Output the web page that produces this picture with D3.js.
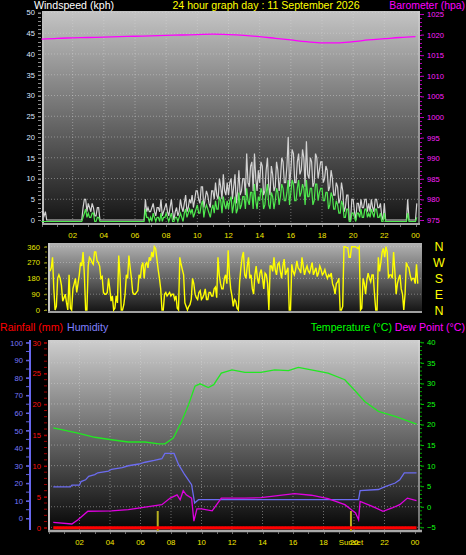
<!DOCTYPE html>
<html><head><meta charset="utf-8">
<script src="https://cdn.jsdelivr.net/npm/d3@7"></script>
<style>
body{margin:0;background:#000}
svg{display:block}
text{font-family:"Liberation Sans",Arial,sans-serif}
</style>
</head><body>
<svg id="c" width="466" height="555"></svg>
<script>
// ---------------- DATA ----------------
const title = "24 hour graph day : 11 September 2026";
const hourLabels = ["02","04","06","08","10","12","14","16","18","20","22","00"];
const hourTicks = [2,4,6,8,10,12,14,16,18,20,22,24];
const sampleMinutes = 5;

// wind gust (kph), 5-minute samples from 00:00 (12 per hour)
const windGust = [
 2,2,1,2,0,0,0,0,0,0,0,0,
 0,0,0,0,0,0,0,0,0,0,0,0,
 0,0,0,0,0,0,0,0,3,5,5,2,
 4,3,2,4,3,1,1,3,3,0,0,0,
 0,0,0,0,0,0,0,0,0,0,0,0,
 0,0,0,0,0,0,0,0,0,0,0,0,
 0,0,0,0,0,0,0,0,5,2,3,2,
 2,3,4,2,1,3,3,2,5,1,2,3,
 4,2,1,3,5,2,0,2,3,1,2,5,
 3,2,4,6,2,3,5,4,6,3,5,7,
 7,5,4,8,8,3,5,7,6,4,3,7,
 7,5,9,6,5,10,8,5,11,7,6,9,
 6,9,10,5,8,11,4,7,12,6,7,10,
 10,6,16,9,8,13,14,7,16,10,7,12,
 9,14,13,6,7,12,15,8,6,13,11,7,
 8,14,12,7,10,15,14,9,9,13,20,8,
 12,17,16,9,9,14,16,11,12,17,15,8,
 19,11,10,15,14,8,9,16,15,10,12,14,
 14,9,10,13,12,7,8,12,10,6,6,9,
 8,4,5,9,7,2,3,6,6,0,0,5,
 5,2,0,4,4,2,5,3,3,5,5,2,
 4,2,5,3,2,5,5,3,3,4,1,0,
 4,0,0,0,0,0,0,0,0,0,0,0,
 0,0,0,0,0,0,5,0,0,0,0,0,
 0,4];
// wind average (kph)
const windAvg = [
 0,0,0,0,0,0,0,0,0,0,0,0,
 0,0,0,0,0,0,0,0,0,0,0,0,
 0,0,0,0,0,0,0,0,1,2,3,1,
 2,1,1,2,2,0,0,1,1,0,0,0,
 0,0,0,0,0,0,0,0,0,0,0,0,
 0,0,0,0,0,0,0,0,0,0,0,0,
 0,0,0,0,0,0,0,0,3,1,1,0,
 1,0,2,1,0,1,1,0,2,0,1,1,
 2,1,0,1,2,0,0,1,1,0,1,2,
 1,0,2,3,1,2,3,2,3,1,2,3,
 4,2,2,4,5,1,3,4,3,2,1,3,
 4,2,5,3,3,6,5,2,6,4,3,5,
 3,5,6,2,4,6,2,3,7,3,4,6,
 6,3,8,5,4,7,7,3,9,5,3,6,
 5,8,7,3,4,7,9,4,3,7,6,3,
 5,8,7,4,6,9,8,5,5,7,10,4,
 7,10,9,5,5,8,10,6,7,9,8,4,
 10,6,6,8,8,4,5,9,9,5,7,8,
 8,5,5,7,7,3,4,7,6,3,3,5,
 4,2,2,5,4,1,1,3,3,0,0,2,
 2,1,0,2,2,1,3,1,1,3,3,1,
 2,1,3,2,1,3,3,1,1,2,0,0,
 2,0,0,0,0,0,0,0,0,0,0,0,
 0,0,0,0,0,0,2,0,0,0,0,0,
 0,1];
// wind direction (degrees)
const windDir = [
 220,240,300,120,0,20,180,200,180,140,50,70,
 90,40,0,200,10,0,120,150,180,100,150,200,
 270,250,330,200,0,0,250,300,290,270,260,330,
 330,280,270,250,180,190,100,90,90,100,180,120,
 50,80,0,10,80,40,310,200,0,0,30,90,
 200,180,310,240,180,100,90,90,100,110,200,180,
 250,270,180,260,270,240,300,280,330,300,360,350,
 290,230,180,120,0,0,90,100,80,90,100,80,
 90,90,60,80,10,0,300,260,230,200,40,20,
 0,20,30,60,180,150,90,70,60,100,110,60,
 70,90,120,60,60,100,100,80,80,120,130,70,
 300,200,150,120,120,180,200,150,340,200,120,80,
 20,60,50,10,0,160,240,300,330,200,180,250,
 300,180,200,120,90,200,250,180,150,210,230,180,
 120,210,200,150,0,250,250,220,300,230,200,260,
 270,220,180,250,290,200,220,240,0,0,260,220,
 200,230,280,240,230,210,300,250,200,230,250,220,
 210,240,270,200,220,240,190,210,250,230,200,210,
 230,200,180,200,190,210,150,130,90,150,160,180,
 0,0,20,360,360,355,355,300,300,360,360,360,
 360,355,350,360,0,10,180,150,90,170,210,180,
 160,200,200,90,0,0,300,220,270,330,350,300,
 360,330,180,200,200,180,330,220,90,150,180,200,
 120,90,0,90,270,250,240,200,170,180,180,150,
 260,150];

// barometer (hPa), hourly
const presHours = [0,1,2,3,4,5,6,7,8,9,10,11,12,13,14,15,16,17,18,19,20,21,22,23,24];
const presValues = [1018.9,1019.1,1019.2,1019.3,1019.4,1019.5,1019.6,1019.7,1019.8,1019.9,1020.0,1020.1,1020.0,
 1019.8,1019.5,1019.1,1018.7,1018.3,1018.0,1018.0,1018.3,1018.7,1019.0,1019.3,1019.5];

// temperature (°C)
const tempTimes = [0.28,1.9,3.0,4.1,5.2,6.3,7.2,7.6,8.15,8.7,9.15,9.57,9.9,10.45,10.8,11.3,12.0,12.85,13.9,14.8,15.7,16.35,17.2,18.3,19.4,20.1,20.7,21.6,22.7,24.1];
const tempValues = [19.2,17.9,16.9,16.3,15.75,15.75,15.3,15.3,16.7,20.8,24.8,29.3,29.9,29.0,29.7,32.5,33.3,32.7,32.7,33.3,33.1,33.9,33.3,32.5,30.9,28.1,25.6,23.2,22.0,20.1];

// humidity (%)
const humTimes = [0.28,1.4,1.5,2.0,2.1,2.4,2.6,3.0,3.2,3.9,4.1,4.8,5.2,5.9,6.3,6.9,7.4,7.6,8.2,8.5,8.9,9.35,9.55,9.8,20.3,20.4,21.6,22.0,22.7,23.0,23.3,24.1];
const humValues = [18,18,19,19,21,22,24,25,26,27,28,29,30,31,32,33,34,37,37,30.6,24.9,19.2,8.8,10.7,10.7,15.8,16.5,18,20.2,22,25.9,25.9];

// dew point (°C)
const dewTimes = [0.28,1.5,1.9,2.55,4.1,5.2,6.3,7.4,7.95,8.4,8.6,8.8,9.0,9.35,9.5,9.7,10.0,10.7,11.3,12.8,13.9,15.0,16.1,17.2,18.3,19.4,20.1,20.3,20.4,21.2,21.9,22.5,23.0,23.5,24.1];
const dewValues = [-3.8,-4.2,-3.15,-1.1,-1.0,-0.7,-0.1,0.5,2.1,2.9,1.7,3.9,2.9,2.1,-3.5,-0.5,-0.5,-1.0,2.1,2.1,2.2,2.7,3.2,2.8,2.0,0.5,-1.5,-3.15,1.3,0.1,-1.1,-0.3,0.5,2.1,1.5];

// rainfall (mm)
const rainTimes = [0.28,24.1];
const rainValues = [0,0];

const sunriseHour = 7.13, sunsetHour = 19.8;

// ---------------- DRAW ----------------
const svg = d3.select("#c");
const defs = svg.append("defs");
function grad(id, c1, c2){
  const g = defs.append("linearGradient").attr("id",id).attr("x1",0).attr("y1",0).attr("x2",0).attr("y2",1);
  g.append("stop").attr("offset","0%").attr("stop-color",c1);
  g.append("stop").attr("offset","100%").attr("stop-color",c2);
}
grad("gTop","#c4c4c4","#141414");
grad("gMid","#b4b4b4","#141414");
grad("gBot","#cecece","#060606");

const F = "Liberation Sans, Arial, sans-serif";
function txt(x,y,s,col,size,anchor){
  return svg.append("text").attr("x",x).attr("y",y).text(s).attr("fill",col)
    .attr("font-size",size).attr("text-anchor",anchor||"start");
}
const gridStyle = sel => sel.attr("stroke","#d8d8d8").attr("stroke-opacity",0.45)
  .attr("stroke-dasharray","1,2").attr("stroke-width",1);
const fmt = d3.format("d");

// ===== TOP PANEL: wind speed + barometer =====
const topBox = {x0:42, x1:420, y0:11, y1:223};
const xTop = d3.scaleLinear().domain([0,24]).range([41.5,415.5]);
const yWind = d3.scaleLinear().domain([0,50]).range([220,12.5]);
const yPres = d3.scaleLinear().domain([975,1025]).range([220,14]);

svg.append("rect").attr("x",topBox.x0).attr("y",topBox.y0).attr("width",topBox.x1-topBox.x0)
  .attr("height",topBox.y1-topBox.y0).attr("fill","url(#gTop)");
svg.append("g").selectAll("line").data(d3.range(5,51,5)).join("line")
  .attr("x1",topBox.x0).attr("x2",topBox.x1).attr("y1",d=>yWind(d)).attr("y2",d=>yWind(d)).call(gridStyle);
svg.append("g").selectAll("line").data(hourTicks.slice(0,-1)).join("line")
  .attr("x1",d=>xTop(d)).attr("x2",d=>xTop(d)).attr("y1",topBox.y0).attr("y2",topBox.y1).call(gridStyle);
svg.append("line").attr("x1",topBox.x0+1).attr("x2",topBox.x0+1).attr("y1",topBox.y0).attr("y2",topBox.y1+2).attr("stroke","#bdbdbd").attr("stroke-width",2);
svg.append("line").attr("x1",topBox.x0).attr("x2",topBox.x1).attr("y1",topBox.y1+1).attr("y2",topBox.y1+1).attr("stroke","#a8a8a8").attr("stroke-width",2);
svg.append("line").attr("x1",topBox.x1-1).attr("x2",topBox.x1-1).attr("y1",topBox.y0).attr("y2",topBox.y1).attr("stroke","#d0d0d0").attr("stroke-width",1);

const axW = svg.append("g").attr("transform",`translate(${topBox.x0-1},0)`)
  .call(d3.axisLeft(yWind).tickValues(d3.range(0,51,5)).tickFormat(fmt).tickSize(3).tickPadding(3));
axW.select(".domain").remove();
axW.selectAll("line").attr("stroke","#9a9a9a");
axW.selectAll("text").attr("fill","#dfe6ff").attr("font-size",7.6).attr("font-family",F);
svg.append("g").selectAll("line").data(d3.range(0,51,1)).join("line")
  .attr("x1",topBox.x0-4).attr("x2",topBox.x0-1).attr("y1",d=>Math.round(yWind(d))+0.5).attr("y2",d=>Math.round(yWind(d))+0.5)
  .attr("stroke","#8a8a8a");
const axP = svg.append("g").attr("transform",`translate(${topBox.x1+1},0)`)
  .call(d3.axisRight(yPres).tickValues(d3.range(975,1026,5)).tickFormat(fmt).tickSize(3).tickPadding(3));
axP.select(".domain").remove();
axP.selectAll("line").attr("stroke","#c000c0");
axP.selectAll("text").attr("fill","#ff20ff").attr("font-size",7.6).attr("font-family",F);
svg.append("g").selectAll("line").data(d3.range(975,1026,1)).join("line")
  .attr("x1",topBox.x1).attr("x2",topBox.x1+2).attr("y1",d=>Math.round(yPres(d))+0.5).attr("y2",d=>Math.round(yPres(d))+0.5)
  .attr("stroke","#b000b0");

svg.append("g").selectAll("text").data(hourTicks).join("text")
  .attr("x",d=>xTop(d)).attr("y",238).attr("text-anchor","middle").text((d,i)=>hourLabels[i])
  .attr("fill","#f2e600").attr("font-size",7.8);
svg.append("g").selectAll("line").data(d3.range(0,25,1)).join("line")
  .attr("x1",d=>Math.round(xTop(d))+0.5).attr("x2",d=>Math.round(xTop(d))+0.5).attr("y1",topBox.y1+2).attr("y2",topBox.y1+4).attr("stroke","#707070");

const wGust = windGust.map((v,i)=>({t:i*sampleMinutes/60,v}));
const wAvg = windAvg.map((v,i)=>({t:i*sampleMinutes/60,v}));
svg.append("path").datum(wGust).attr("fill","none").attr("stroke","#d2d2d2").attr("stroke-width",1.2)
  .attr("d",d3.line().x(d=>xTop(d.t)).y(d=>yWind(d.v)));
svg.append("path").datum(wAvg).attr("fill","none").attr("stroke","#4ee84e").attr("stroke-width",1.2)
  .attr("d",d3.line().x(d=>xTop(d.t)).y(d=>yWind(d.v)+1.5));
svg.append("path").datum(presHours.map((t,i)=>({t,v:presValues[i]}))).attr("fill","none")
  .attr("stroke","#ff00ff").attr("stroke-width",1.3)
  .attr("d",d3.line().curve(d3.curveMonotoneX).x(d=>xTop(d.t)).y(d=>yPres(d.v)));

txt(34,9,"Windspeed (kph)","#ffffff",10.6);
txt(266,9,title,"#ffff00",10.6,"middle");
txt(465,9,"Barometer (hpa)","#ff00ff",10.4,"end");

// ===== MIDDLE PANEL: wind direction =====
const midBox = {x0:48, x1:422, y0:243, y1:312};
const xMid = d3.scaleLinear().domain([0,24]).range([50,416.5]);
const yDir = d3.scaleLinear().domain([0,360]).range([310,246.7]);
svg.append("rect").attr("x",midBox.x0).attr("y",midBox.y0).attr("width",midBox.x1-midBox.x0)
  .attr("height",midBox.y1-midBox.y0).attr("fill","url(#gMid)");
svg.append("g").selectAll("line").data([90,180,270,360]).join("line")
  .attr("x1",midBox.x0).attr("x2",midBox.x1).attr("y1",d=>yDir(d)).attr("y2",d=>yDir(d)).call(gridStyle);
svg.append("line").attr("x1",midBox.x0+1).attr("x2",midBox.x0+1).attr("y1",midBox.y0).attr("y2",midBox.y1+1).attr("stroke","#c8c8c8").attr("stroke-width",2);
svg.append("line").attr("x1",midBox.x0).attr("x2",midBox.x1).attr("y1",midBox.y1).attr("y2",midBox.y1).attr("stroke","#a0a0a0").attr("stroke-width",2);
const axD = svg.append("g").attr("transform",`translate(${midBox.x0-1},0)`)
  .call(d3.axisLeft(yDir).tickValues([0,90,180,270,360]).tickFormat(fmt).tickSize(3).tickPadding(4));
axD.select(".domain").remove();
axD.selectAll("line").attr("stroke","#9a9a20");
axD.selectAll("text").attr("fill","#e8e800").attr("font-size",7.6).attr("font-family",F);
svg.append("g").selectAll("line").data(d3.range(0,361,30)).join("line")
  .attr("x1",midBox.x0-3).attr("x2",midBox.x0-1).attr("y1",d=>yDir(d)).attr("y2",d=>yDir(d)).attr("stroke","#7a7a10");
const compass = ["N","W","S","E","N"];
svg.append("g").selectAll("text").data([360,270,180,90,0]).join("text")
  .attr("x",439).attr("y",d=>yDir(d)).attr("dy","0.36em").attr("text-anchor","middle")
  .text((d,i)=>compass[i]).attr("fill","#ffff00").attr("font-size",12.5);
svg.append("path").datum(windDir.map((v,i)=>({t:i*sampleMinutes/60,v}))).attr("fill","none")
  .attr("stroke","#ffff00").attr("stroke-width",1.4)
  .attr("d",d3.line().x(d=>xMid(d.t)).y(d=>yDir(d.v)));

// ===== BOTTOM PANEL =====
const botBox = {x0:48, x1:420, y0:340, y1:530};
const xBot = d3.scaleLinear().domain([0,24]).range([49,415]);
const yTemp = d3.scaleLinear().domain([-5,40]).range([527.3,342.3]);
const yHum = d3.scaleLinear().domain([0,100]).range([518.5,342.7]);
const yRain = d3.scaleLinear().domain([0,30]).range([527.7,342.7]);
svg.append("rect").attr("x",botBox.x0).attr("y",botBox.y0).attr("width",botBox.x1-botBox.x0)
  .attr("height",botBox.y1-botBox.y0).attr("fill","url(#gBot)");
svg.append("g").selectAll("line").data(d3.range(-5,41,5)).join("line")
  .attr("x1",botBox.x0).attr("x2",botBox.x1).attr("y1",d=>yTemp(d)).attr("y2",d=>yTemp(d)).call(gridStyle);
svg.append("g").selectAll("line").data(hourTicks.slice(0,-1)).join("line")
  .attr("x1",d=>xBot(d)).attr("x2",d=>xBot(d)).attr("y1",botBox.y0).attr("y2",botBox.y1).call(gridStyle);
svg.append("line").attr("x1",botBox.x0+1).attr("x2",botBox.x0+1).attr("y1",botBox.y0).attr("y2",botBox.y1+2).attr("stroke","#c8c8c8").attr("stroke-width",2);
svg.append("line").attr("x1",botBox.x0).attr("x2",botBox.x1+2).attr("y1",botBox.y1+1).attr("y2",botBox.y1+1).attr("stroke","#a8a8a8").attr("stroke-width",2.5);
svg.append("line").attr("x1",botBox.x1-1).attr("x2",botBox.x1-1).attr("y1",botBox.y0).attr("y2",botBox.y1).attr("stroke","#d8d8d8").attr("stroke-width",1);
svg.append("g").selectAll("line").data(d3.range(0,25,1)).join("line")
  .attr("x1",d=>Math.round(xBot(d))+0.5).attr("x2",d=>Math.round(xBot(d))+0.5).attr("y1",botBox.y1+2).attr("y2",botBox.y1+4).attr("stroke","#707070");

svg.append("line").attr("x1",30).attr("x2",30).attr("y1",340).attr("y2",530).attr("stroke","#6868f0").attr("stroke-width",2);
const axH = svg.append("g").attr("transform","translate(29,0)")
  .call(d3.axisLeft(yHum).tickValues(d3.range(0,101,10)).tickFormat(fmt).tickSize(3).tickPadding(3));
axH.select(".domain").remove();
axH.selectAll("line").attr("stroke","#6868f0");
axH.selectAll("text").attr("fill","#7878ff").attr("font-size",7.6).attr("font-family",F);
svg.append("g").selectAll("line").data(d3.range(0,101,5)).join("line")
  .attr("x1",26).attr("x2",29).attr("y1",d=>yHum(d)).attr("y2",d=>yHum(d)).attr("stroke","#6060e0");
const axR = svg.append("g").attr("transform",`translate(${botBox.x0-1},0)`)
  .call(d3.axisLeft(yRain).tickValues(d3.range(0,31,5)).tickFormat(fmt).tickSize(3).tickPadding(3));
axR.select(".domain").remove();
axR.selectAll("line").attr("stroke","#c00000");
axR.selectAll("text").attr("fill","#ff1010").attr("font-size",7.6).attr("font-family",F);
svg.append("g").selectAll("line").data(d3.range(0,31,1)).join("line")
  .attr("x1",botBox.x0-4).attr("x2",botBox.x0-1).attr("y1",d=>yRain(d)).attr("y2",d=>yRain(d)).attr("stroke","#a00000");
const axT = svg.append("g").attr("transform",`translate(${botBox.x1+1},0)`)
  .call(d3.axisRight(yTemp).tickValues(d3.range(-5,41,5)).tickFormat(fmt).tickSize(3).tickPadding(3));
axT.select(".domain").remove();
axT.selectAll("line").attr("stroke","#00c000");
axT.selectAll("text").attr("fill","#10ff10").attr("font-size",7.6).attr("font-family",F);
svg.append("g").selectAll("line").data(d3.range(-5,41,1)).join("line")
  .attr("x1",botBox.x1).attr("x2",botBox.x1+2).attr("y1",d=>yTemp(d)).attr("y2",d=>yTemp(d)).attr("stroke","#00a000");

svg.append("g").selectAll("line").data([sunriseHour,sunsetHour]).join("line")
  .attr("x1",d=>xBot(d)).attr("x2",d=>xBot(d)).attr("y1",511).attr("y2",531)
  .attr("stroke","#b8b020").attr("stroke-width",2);

const mk = (ts,vs)=>ts.map((t,i)=>({t,v:vs[i]}));
svg.append("path").datum(mk(tempTimes,tempValues)).attr("fill","none").attr("stroke","#22e822").attr("stroke-width",1.3)
  .attr("d",d3.line().x(d=>xBot(d.t)).y(d=>yTemp(d.v)));
svg.append("path").datum(mk(humTimes,humValues)).attr("fill","none").attr("stroke","#6c6cf0").attr("stroke-width",1.3)
  .attr("d",d3.line().x(d=>xBot(d.t)).y(d=>yHum(d.v)));
svg.append("path").datum(mk(dewTimes,dewValues)).attr("fill","none").attr("stroke","#e000e0").attr("stroke-width",1.3)
  .attr("d",d3.line().x(d=>xBot(d.t)).y(d=>yTemp(d.v)));
svg.append("path").datum(mk(rainTimes,rainValues)).attr("fill","none").attr("stroke","#ff0000").attr("stroke-width",3)
  .attr("d",d3.line().x(d=>xBot(d.t)).y(d=>yRain(d.v)));

svg.append("g").selectAll("text").data(hourTicks).join("text")
  .attr("x",d=>xBot(d)).attr("y",545).attr("text-anchor","middle").text((d,i)=>hourLabels[i])
  .attr("fill","#f2e600").attr("font-size",7.8);
txt(xBot(sunsetHour),545,"Sunset","#f2e600",7.8,"middle");

txt(0,330.7,"Rainfall (mm)","#ff0000",10.6);
txt(67,330.7,"Humidity","#8080ff",10.6);
txt(392,330.7,"Temperature (°C)","#00ff00",10.6,"end");
txt(465,330.7,"Dew Point (°C)","#ff00ff",10.6,"end");
</script>
</body></html>
